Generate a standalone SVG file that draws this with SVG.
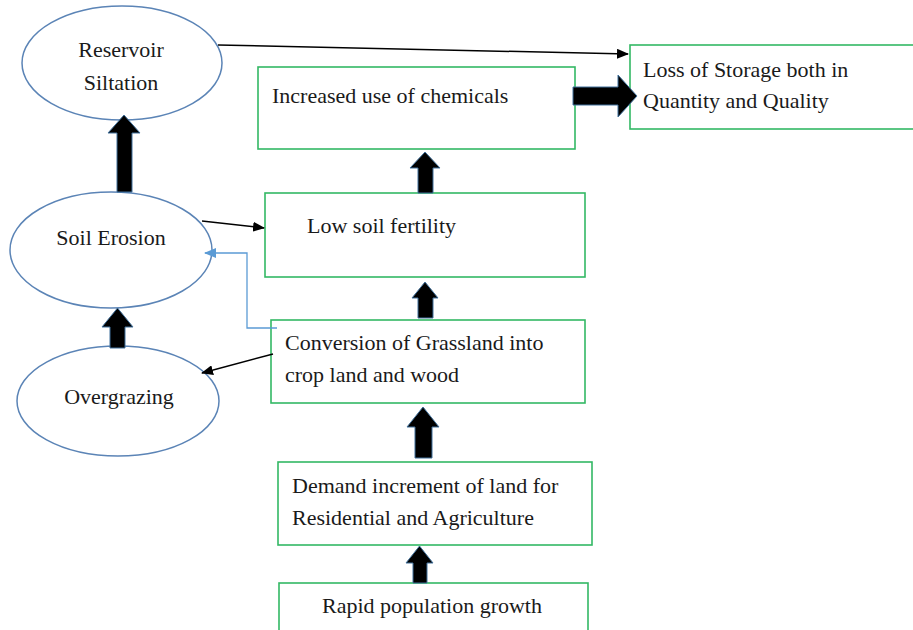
<svg xmlns="http://www.w3.org/2000/svg" width="913" height="630" viewBox="0 0 913 630">
<style>
.ell{fill:#fff;stroke:#5b84b6;stroke-width:1.5}
.box{fill:#fff;stroke:#33b864;stroke-width:1.6}
.t{font-size:22px;fill:#1a1a1a}
.big{fill:#000;stroke:#41719c;stroke-width:1}
.thin{stroke:#000;stroke-width:1.5;fill:none}
.blue{stroke:#5b9bd5;stroke-width:1.3;fill:none}
</style>
<defs>
<marker id="ah" markerWidth="12" markerHeight="10" refX="11" refY="5" orient="auto" markerUnits="userSpaceOnUse">
<path d="M0,0 L12,5 L0,10 Z" fill="#000"/>
</marker>
<marker id="ahb" markerWidth="12" markerHeight="10" refX="11" refY="5" orient="auto" markerUnits="userSpaceOnUse">
<path d="M0,0 L12,5 L0,10 Z" fill="#5b9bd5"/>
</marker>
</defs>
<rect width="913" height="630" fill="#fff"/>
<g font-family="'Liberation Serif', 'Times New Roman', 'DejaVu Serif', serif">
<g id="reservoir">
<ellipse class="ell" cx="122" cy="63" rx="100" ry="57"/>
<text class="t" x="121" y="57" text-anchor="middle">Reservoir</text>
<text class="t" x="121" y="90" text-anchor="middle">Siltation</text>
</g>
<g id="soil-erosion">
<ellipse class="ell" cx="111" cy="250" rx="101" ry="58"/>
<text class="t" x="111" y="245" text-anchor="middle">Soil Erosion</text>
</g>
<g id="overgrazing">
<ellipse class="ell" cx="118" cy="401" rx="101" ry="55"/>
<text class="t" x="119" y="404" text-anchor="middle">Overgrazing</text>
</g>
<g id="chemicals">
<rect class="box" x="258" y="67" width="317" height="82"/>
<text class="t" x="272" y="103">Increased use of chemicals</text>
</g>
<g id="loss">
<rect class="box" x="630" y="45" width="290" height="84"/>
<text class="t" x="643" y="77">Loss of Storage both in</text>
<text class="t" x="643" y="108">Quantity and Quality</text>
</g>
<g id="fertility">
<rect class="box" x="265" y="193" width="320" height="84"/>
<text class="t" x="307" y="233">Low soil fertility</text>
</g>
<g id="conversion">
<rect class="box" x="271" y="320" width="314" height="83"/>
<text class="t" x="285" y="350">Conversion of Grassland into</text>
<text class="t" x="285" y="382">crop land and wood</text>
</g>
<g id="demand">
<rect class="box" x="278" y="462" width="314" height="83"/>
<text class="t" x="292" y="493">Demand increment of land for</text>
<text class="t" x="292" y="525">Residential and Agriculture</text>
</g>
<g id="population">
<rect class="box" x="279" y="583" width="309" height="60"/>
<text class="t" x="322" y="613">Rapid population growth</text>
</g>
</g>
<g id="connectors">
<polygon class="big" points="117,192 117,133 108,133 124,115 140,133 132,133 132,192"/>
<polygon class="big" points="110,348 110,327 102,327 117.5,308 133,327 125,327 125,348"/>
<polygon class="big" points="418,193 418,168 410,168 425,152 440,168 433,168 433,193"/>
<polygon class="big" points="418,318 418,298 412,298 425,282 438,298 433,298 433,318"/>
<polygon class="big" points="415,458 415,427 407,427 423,407 439,427 432,427 432,458"/>
<polygon class="big" points="413,583 413,563 406,563 419.5,546 433,563 427,563 427,583"/>
<polygon class="big" points="573,87 618,87 618,75 637,96 618,117 618,105 573,105"/>
<line class="thin" x1="218" y1="45" x2="628" y2="54" marker-end="url(#ah)"/>
<line class="thin" x1="202" y1="221" x2="264" y2="228" marker-end="url(#ah)"/>
<line class="thin" x1="273" y1="354" x2="202" y2="373" marker-end="url(#ah)"/>
<polyline class="blue" points="277,328 247,328 247,253 205,253" marker-end="url(#ahb)"/>
</g>
</svg>
